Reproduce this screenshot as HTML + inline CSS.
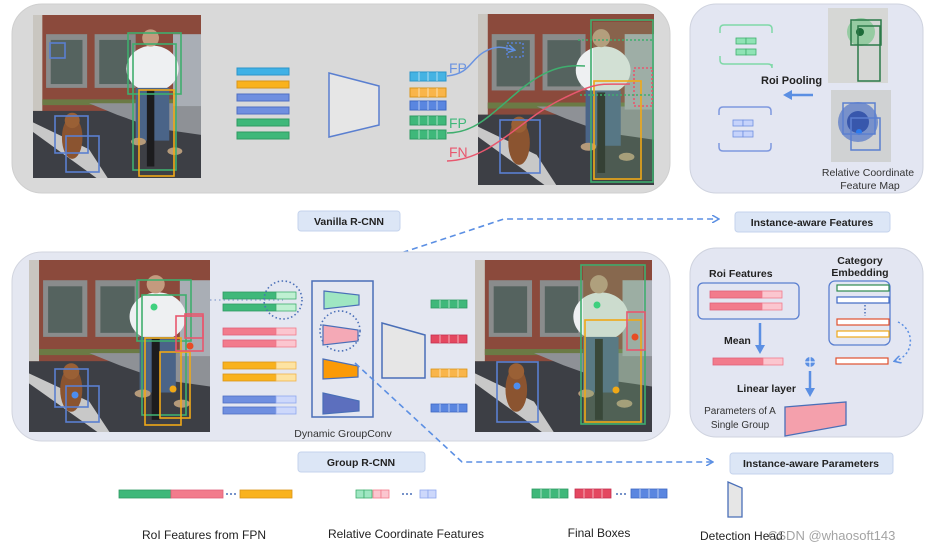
<!DOCTYPE html>
<html><head><meta charset="utf-8"><style>
html,body{margin:0;padding:0;background:#fff;width:935px;height:551px;overflow:hidden}
svg{display:block}
text{font-family:"Liberation Sans",Arial,sans-serif}
</style></head><body>
<svg width="935" height="551" viewBox="0 0 935 551" xmlns="http://www.w3.org/2000/svg">
<defs>
<symbol id="photo" viewBox="0 0 180 170" preserveAspectRatio="none">
 <rect width="180" height="170" fill="#3d3f45"/>
 <rect width="180" height="100" fill="#8b4a3c"/>
 <rect x="0" y="0" width="10" height="100" fill="#c9c6c0"/>
 <rect x="14" y="20" width="44" height="56" fill="#8a8c8c"/>
 <rect x="19" y="26" width="34" height="46" fill="#55635f"/>
 <rect x="66" y="20" width="44" height="56" fill="#8a8c8c"/>
 <rect x="71" y="26" width="34" height="46" fill="#55635f"/>
 <rect x="10" y="88" width="170" height="6" fill="#6b7a45"/>
 <polygon points="60,92 180,92 180,125 130,118 90,104" fill="#8e9196"/>
 <polygon points="0,112 60,140 80,170 68,170 0,122" fill="#c8c8c8"/>
 <rect x="150" y="20" width="30" height="75" fill="#a9aeb5"/>
 <ellipse cx="128" cy="56" rx="28" ry="24" fill="#eef0f2"/>
 <circle cx="126" cy="24" r="9" fill="#c49a7e"/>
 <rect x="110" y="76" width="36" height="55" fill="#4a6488"/>
 <rect x="122" y="78" width="8" height="80" fill="#1c1c1e"/>
 <ellipse cx="113" cy="132" rx="8" ry="4" fill="#b59a7a"/>
 <ellipse cx="152" cy="142" rx="8" ry="4" fill="#b59a7a"/>
 <ellipse cx="42" cy="128" rx="11" ry="22" fill="#8b5430"/>
 <circle cx="42" cy="110" r="8" fill="#9a6035"/>
</symbol>
<marker id="ah" markerWidth="8" markerHeight="8" refX="6" refY="4" orient="auto" markerUnits="userSpaceOnUse"><path d="M0,0 L7,4 L0,8" fill="none" stroke="#5b8fe3" stroke-width="1.5"/></marker>
<marker id="ahs" markerWidth="10" markerHeight="10" refX="5" refY="5" orient="auto" markerUnits="userSpaceOnUse"><path d="M0,0 L9,5 L0,10 z" fill="#5b8fe3"/></marker>
</defs>

<!-- top panel -->
<rect x="12" y="4" width="658" height="189" rx="30" fill="#d9d9d9" stroke="#cfcfcf"/>
<use href="#photo" x="33" y="15" width="168" height="163"/>
<g fill="none" stroke-width="1.6">
 <rect x="50" y="43" width="15" height="15" stroke="#5a7fd0"/>
 <rect x="128" y="33" width="53" height="61" stroke="#3fae6e"/>
 <rect x="133" y="44" width="43" height="126" stroke="#3fae6e"/>
 <rect x="139" y="90" width="35" height="86" stroke="#f0a817"/>
 <rect x="55" y="116" width="33" height="37" stroke="#5a7fd0"/>
 <rect x="66" y="136" width="33" height="36" stroke="#5a7fd0"/>
</g>
<!-- stacked bars -->
<g stroke-width="1">
 <rect x="237" y="68" width="52" height="7" fill="#3fb1e6" stroke="#2c95c9"/>
 <rect x="237" y="81" width="52" height="7" fill="#f9b21d" stroke="#d9951a"/>
 <rect x="237" y="94" width="52" height="7" fill="#6f8fe0" stroke="#4f6fc4"/>
 <rect x="237" y="107" width="52" height="7" fill="#6f8fe0" stroke="#4f6fc4"/>
 <rect x="237" y="119" width="52" height="7" fill="#3fb87a" stroke="#2f9a63"/>
 <rect x="237" y="132" width="52" height="7" fill="#3fb87a" stroke="#2f9a63"/>
</g>
<polygon points="329,73 379,86 379,125 329,137" fill="#e6e6e6" stroke="#5a7fd0" stroke-width="1.5"/>
<g stroke-width="1">
 <rect x="410" y="72" width="36" height="9" fill="#45b3e3" stroke="#2c95c9"/>
 <rect x="410" y="88" width="36" height="9" fill="#f9b54a" stroke="#d9951a"/>
 <rect x="410" y="101" width="36" height="9" fill="#5a86e0" stroke="#3f69c4"/>
 <rect x="410" y="116" width="36" height="9" fill="#3fb87a" stroke="#2f9a63"/>
 <rect x="410" y="130" width="36" height="9" fill="#3fb87a" stroke="#2f9a63"/>
</g>
<g stroke="#fff" stroke-width="0.8" opacity="0.7">
 <path d="M419,72v9M428,72v9M437,72v9M419,88v9M428,88v9M437,88v9M419,101v9M428,101v9M437,101v9M419,116v9M428,116v9M437,116v9M419,130v9M428,130v9M437,130v9"/>
</g>
<text x="449" y="73" font-size="14" fill="#6a93e0">FP</text>
<text x="449" y="128" font-size="14" fill="#3fb87a">FP</text>
<text x="449" y="157" font-size="14" fill="#e8576e">FN</text>

<use href="#photo" x="478" y="14" width="176" height="171"/>
<rect x="593" y="22" width="60" height="158" fill="#7fae7a" opacity="0.25"/>
<g fill="none" stroke-width="1.6">
 <rect x="591" y="20" width="62" height="162" stroke="#3fae6e"/>
 <rect x="594" y="81" width="47" height="98" stroke="#f0a817"/>
 <rect x="500" y="120" width="40" height="53" stroke="#5a7fd0"/>
 <rect x="634" y="68" width="18" height="38" stroke="#e8576e" stroke-dasharray="2,2"/>
 <rect x="507" y="43" width="16" height="14" stroke="#5a7fd0" stroke-dasharray="2,2"/>
 <path d="M578,40 H652 M580,95 H652" stroke="#3fae6e" stroke-dasharray="2,2"/>
</g>
<g fill="none" stroke-width="1.5">
 <path d="M447,76 C470,74 470,60 484,52 S505,48 514,50" stroke="#6a93e0" marker-end="url(#ah)"/>
 <path d="M447,133 C475,133 490,115 520,90 S570,65 585,66" stroke="#3fae6e"/>
 <path d="M447,161 C490,160 520,120 560,100 S600,85 630,84" stroke="#e8576e"/>
</g>

<!-- top right panel -->
<rect x="690" y="4" width="233" height="189" rx="26" fill="#e3e6f2" stroke="#cfd3df"/>
<rect x="828" y="8" width="60" height="75" fill="#d6d7d5"/>
<circle cx="861" cy="32" r="14" fill="#55c070" opacity="0.5"/>
<circle cx="860" cy="32" r="4" fill="#1d6b39"/>
<g fill="none" stroke="#2c7a49" stroke-width="1.5"><rect x="851" y="20" width="30" height="25"/><rect x="858" y="26" width="22" height="55"/></g>
<rect x="831" y="90" width="60" height="72" fill="#d0d2d3"/>
<circle cx="858" cy="122" r="20" fill="#2f5bc4" opacity="0.55"/>
<circle cx="858" cy="122" r="11" fill="#1d3f9e" opacity="0.7"/>
<circle cx="859" cy="132" r="3" fill="#2a7bf0"/>
<g fill="none" stroke="#5a7fd0" stroke-width="1.5"><rect x="843" y="103" width="32" height="31"/><rect x="851" y="118" width="29" height="32"/></g>
<text x="868" y="176" font-size="10.5" fill="#333" text-anchor="middle">Relative Coordinate</text>
<text x="870" y="189" font-size="10.5" fill="#333" text-anchor="middle">Feature Map</text>
<text x="761" y="84" font-size="11" font-weight="bold" fill="#222">Roi Pooling</text>
<path d="M813,95 H787" stroke="#5b8fe3" stroke-width="2.5" marker-end="url(#ahs)"/>
<g fill="none" stroke="#7fd8a8" stroke-width="1.5">
 <path d="M720,33 v-4 q0,-4 4,-4 h44 q4,0 4,4 v4"/><path d="M720,60 v4 q0,4 4,4 h44 q4,0 4,4 v-4" transform="translate(0,-4)"/>
</g>
<g fill="#8fe3b5" stroke="#3fae6e" stroke-width="0.8">
 <rect x="736" y="38" width="10" height="6"/><rect x="746" y="38" width="10" height="6"/>
 <rect x="736" y="49" width="10" height="6"/><rect x="746" y="49" width="10" height="6"/>
</g>
<g fill="none" stroke="#7e98df" stroke-width="1.5">
 <path d="M719,115 v-4 q0,-4 4,-4 h44 q4,0 4,4 v4"/><path d="M719,143 v4 q0,4 4,4 h44 q4,0 4,-4 v-4"/>
</g>
<g fill="#c6d3fb" stroke="#6f8fe0" stroke-width="0.8">
 <rect x="733" y="120" width="10" height="6"/><rect x="743" y="120" width="10" height="6"/>
 <rect x="733" y="131" width="10" height="6"/><rect x="743" y="131" width="10" height="6"/>
</g>

<!-- labels middle -->
<rect x="298" y="211" width="102" height="20" rx="3" fill="#dce6f6" stroke="#c5d3ec"/>
<text x="349" y="225" font-size="10.5" font-weight="bold" fill="#222" text-anchor="middle">Vanilla R-CNN</text>
<rect x="735" y="212" width="155" height="20" rx="3" fill="#dce6f6" stroke="#c5d3ec"/>
<text x="812" y="226" font-size="10.5" font-weight="bold" fill="#222" text-anchor="middle">Instance-aware Features</text>
<path d="M298,287 L504,219 H718" fill="none" stroke="#5b8fe3" stroke-width="1.6" stroke-dasharray="6,4" marker-end="url(#ah)"/>

<!-- bottom panel -->
<rect x="12" y="252" width="658" height="189" rx="30" fill="#e4e7f1" stroke="#d2d5df"/>
<use href="#photo" x="29" y="260" width="181" height="172"/>
<g fill="none" stroke-width="1.6">
 <rect x="137" y="280" width="54" height="61" stroke="#3fae6e"/>
 <rect x="142" y="295" width="44" height="120" stroke="#3fae6e"/>
 <rect x="145" y="338" width="36" height="87" stroke="#f0a817"/>
 <rect x="160" y="352" width="30" height="66" stroke="#f0a817"/>
 <rect x="176" y="316" width="27" height="35" stroke="#e8576e"/>
 <rect x="185" y="314" width="18" height="24" stroke="#e8576e"/>
 <rect x="55" y="369" width="33" height="38" stroke="#5a7fd0"/>
 <rect x="66" y="386" width="33" height="36" stroke="#5a7fd0"/>
</g>
<circle cx="154" cy="307" r="3.5" fill="#3fd07e"/><circle cx="190" cy="346" r="3.5" fill="#e84c24"/>
<circle cx="173" cy="389" r="3.5" fill="#f0a817"/><circle cx="75" cy="395" r="3.5" fill="#4c8df0"/>

<!-- group features -->
<g stroke-width="0.8">
 <rect x="223" y="292" width="53" height="7" fill="#3fb87a" stroke="#2f9a63"/><rect x="276" y="292" width="20" height="7" fill="#bff0d2" stroke="#3fae6e"/>
 <rect x="223" y="304" width="53" height="7" fill="#3fb87a" stroke="#2f9a63"/><rect x="276" y="304" width="20" height="7" fill="#bff0d2" stroke="#3fae6e"/>
 <rect x="223" y="328" width="53" height="7" fill="#f27b8c" stroke="#e0607a"/><rect x="276" y="328" width="20" height="7" fill="#fbc6cf" stroke="#f27b8c"/>
 <rect x="223" y="340" width="53" height="7" fill="#f27b8c" stroke="#e0607a"/><rect x="276" y="340" width="20" height="7" fill="#fbc6cf" stroke="#f27b8c"/>
 <rect x="223" y="362" width="53" height="7" fill="#f9b21d" stroke="#d9951a"/><rect x="276" y="362" width="20" height="7" fill="#fde3a2" stroke="#f0b34a"/>
 <rect x="223" y="374" width="53" height="7" fill="#f9b21d" stroke="#d9951a"/><rect x="276" y="374" width="20" height="7" fill="#fde3a2" stroke="#f0b34a"/>
 <rect x="223" y="396" width="53" height="7" fill="#6f8fe0" stroke="#4f6fc4"/><rect x="276" y="396" width="20" height="7" fill="#cdd8fb" stroke="#8fa8ee"/>
 <rect x="223" y="407" width="53" height="7" fill="#6f8fe0" stroke="#4f6fc4"/><rect x="276" y="407" width="20" height="7" fill="#cdd8fb" stroke="#8fa8ee"/>
</g>
<g fill="none" stroke="#4a6fb8" stroke-width="1.6" stroke-dasharray="1.5,2.5">
 <circle cx="283" cy="300" r="19"/><circle cx="340" cy="331" r="20"/>
 <path d="M210,300 L283,300" stroke-dasharray="1.5,3" opacity="0.5"/>
</g>
<rect x="312" y="281" width="61" height="136" fill="none" stroke="#4a6fb8" stroke-width="1.5"/>
<polygon points="324,291 359,295 359,305 324,309" fill="#9fe6c2" stroke="#4a6fb8" stroke-width="1.2"/>
<polygon points="323,325 358,330 358,341 323,345" fill="#f4a9b6" stroke="#4a6fb8" stroke-width="1.2"/>
<polygon points="323,359 358,366 358,377 323,379" fill="#fb9a06" stroke="#4a6fb8" stroke-width="1.2"/>
<polygon points="323,393 359,401 359,411 323,414" fill="#5c6fbe" stroke="#4a6fb8" stroke-width="1.2"/>
<polygon points="382,323 425,335 425,378 382,378" fill="#e6e6e6" stroke="#4a6fb8" stroke-width="1.5"/>
<text x="343" y="437" font-size="10.5" fill="#333" text-anchor="middle">Dynamic GroupConv</text>
<g stroke-width="0.8">
 <rect x="431" y="300" width="36" height="8" fill="#3fb87a" stroke="#2f9a63"/>
 <rect x="431" y="335" width="36" height="8" fill="#e44860" stroke="#c43050"/>
 <rect x="431" y="369" width="36" height="8" fill="#f9b54a" stroke="#d9951a"/>
 <rect x="431" y="404" width="36" height="8" fill="#5a86e0" stroke="#3f69c4"/>
</g>
<g stroke="#fff" stroke-width="0.8" opacity="0.7"><path d="M440,300v8M449,300v8M458,300v8M440,335v8M449,335v8M458,335v8M440,369v8M449,369v8M458,369v8M440,404v8M449,404v8M458,404v8"/></g>

<use href="#photo" x="475" y="260" width="177" height="172"/>
<rect x="583" y="266" width="60" height="158" fill="#7fae7a" opacity="0.3"/>
<g fill="none" stroke-width="1.6">
 <rect x="581" y="265" width="64" height="159" stroke="#3fae6e"/>
 <rect x="585" y="320" width="56" height="102" stroke="#f0a817"/>
 <rect x="627" y="312" width="18" height="38" stroke="#e8576e"/>
 <rect x="497" y="362" width="41" height="60" stroke="#5a7fd0"/>
</g>
<circle cx="597" cy="305" r="3.5" fill="#3fd07e"/><circle cx="635" cy="337" r="3.5" fill="#e84c24"/>
<circle cx="616" cy="390" r="3.5" fill="#f0a817"/><circle cx="517" cy="386" r="3.5" fill="#4c8df0"/>

<!-- bottom right panel -->
<rect x="690" y="248" width="233" height="189" rx="26" fill="#e3e6f2" stroke="#cfd3df"/>
<text x="709" y="277" font-size="10.5" font-weight="bold" fill="#222">Roi Features</text>
<rect x="698" y="283" width="101" height="36" rx="5" fill="none" stroke="#5a7fd0" stroke-width="1.3"/>
<g stroke-width="0.8">
 <rect x="710" y="291" width="52" height="7" fill="#f27b8c" stroke="#e0607a"/><rect x="762" y="291" width="20" height="7" fill="#fbc6cf" stroke="#f27b8c"/>
 <rect x="710" y="303" width="52" height="7" fill="#f27b8c" stroke="#e0607a"/><rect x="762" y="303" width="20" height="7" fill="#fbc6cf" stroke="#f27b8c"/>
 <rect x="713" y="358" width="50" height="7" fill="#f27b8c" stroke="#e0607a"/><rect x="763" y="358" width="20" height="7" fill="#fbc6cf" stroke="#f27b8c"/>
</g>
<text x="724" y="344" font-size="10.5" font-weight="bold" fill="#222">Mean</text>
<path d="M760,323 V350" stroke="#5b8fe3" stroke-width="2.5" marker-end="url(#ahs)"/>
<text x="860" y="264" font-size="10.5" font-weight="bold" fill="#222" text-anchor="middle">Category</text>
<text x="860" y="276" font-size="10.5" font-weight="bold" fill="#222" text-anchor="middle">Embedding</text>
<rect x="829" y="281" width="61" height="64" rx="6" fill="none" stroke="#5a7fd0" stroke-width="1.3"/>
<g stroke-width="1.2" fill="#fff">
 <rect x="837" y="285" width="52" height="6" stroke="#2f8a4f"/>
 <rect x="837" y="297" width="52" height="6" stroke="#3f69c4"/>
 <rect x="837" y="319" width="52" height="6" stroke="#e0502e"/>
 <rect x="837" y="331" width="52" height="6" stroke="#f0a817"/>
 <rect x="836" y="358" width="52" height="6" stroke="#e0502e"/>
</g>
<path d="M865,305 V316" stroke="#4a6fb8" stroke-width="1.5" stroke-dasharray="1.5,2"/>
<path d="M898,322 C915,330 915,355 895,361" fill="none" stroke="#5b8fe3" stroke-width="1.5" stroke-dasharray="2,2.5" marker-end="url(#ah)"/>
<circle cx="810" cy="362" r="5" fill="#5b8fe3"/><path d="M805,362h10M810,357v10" stroke="#fff" stroke-width="1"/>
<path d="M810,371 V393" stroke="#5b8fe3" stroke-width="2.5" marker-end="url(#ahs)"/>
<text x="737" y="392" font-size="10.5" font-weight="bold" fill="#222">Linear layer</text>
<polygon points="785,407 846,402 846,425 785,436" fill="#f4a0ac" stroke="#4a6fb8" stroke-width="1.3"/>
<text x="740" y="414" font-size="10" fill="#333" text-anchor="middle">Parameters of A</text>
<text x="740" y="428" font-size="10" fill="#333" text-anchor="middle">Single Group</text>

<rect x="298" y="452" width="127" height="20" rx="3" fill="#dce6f6" stroke="#c5d3ec"/>
<text x="361" y="466" font-size="10.5" font-weight="bold" fill="#222" text-anchor="middle">Group R-CNN</text>
<rect x="730" y="453" width="163" height="21" rx="3" fill="#dce6f6" stroke="#c5d3ec"/>
<text x="811" y="467" font-size="10.5" font-weight="bold" fill="#222" text-anchor="middle">Instance-aware Parameters</text>
<path d="M355,363 L462,462 H712" fill="none" stroke="#5b8fe3" stroke-width="1.6" stroke-dasharray="6,4" marker-end="url(#ah)"/>

<!-- legend -->
<g stroke-width="0.8">
 <rect x="119" y="490" width="52" height="8" fill="#3fb87a" stroke="#2f9a63"/>
 <rect x="171" y="490" width="52" height="8" fill="#f27b8c" stroke="#e0607a"/>
 <rect x="240" y="490" width="52" height="8" fill="#f9b21d" stroke="#d9951a"/>
 <rect x="356" y="490" width="8" height="8" fill="#9fe6c2" stroke="#3fae6e"/><rect x="364" y="490" width="8" height="8" fill="#9fe6c2" stroke="#3fae6e"/>
 <rect x="373" y="490" width="8" height="8" fill="#fbc6cf" stroke="#f27b8c"/><rect x="381" y="490" width="8" height="8" fill="#fbc6cf" stroke="#f27b8c"/>
 <rect x="420" y="490" width="8" height="8" fill="#cdd8fb" stroke="#8fa8ee"/><rect x="428" y="490" width="8" height="8" fill="#cdd8fb" stroke="#8fa8ee"/>
 <rect x="532" y="489" width="36" height="9" fill="#3fb87a" stroke="#2f9a63"/>
 <rect x="575" y="489" width="36" height="9" fill="#e44860" stroke="#c43050"/>
 <rect x="631" y="489" width="36" height="9" fill="#5a86e0" stroke="#3f69c4"/>
</g>
<g stroke="#fff" stroke-width="0.8" opacity="0.7"><path d="M541,489v9M550,489v9M559,489v9M584,489v9M593,489v9M602,489v9M640,489v9M649,489v9M658,489v9"/></g>
<g fill="#4a6fb8"><circle cx="227" cy="494" r="1"/><circle cx="231" cy="494" r="1"/><circle cx="235" cy="494" r="1"/>
<circle cx="403" cy="494" r="1"/><circle cx="407" cy="494" r="1"/><circle cx="411" cy="494" r="1"/>
<circle cx="617" cy="494" r="1"/><circle cx="621" cy="494" r="1"/><circle cx="625" cy="494" r="1"/></g>
<polygon points="728,482 742,488 742,517 728,517" fill="#e6e6e6" stroke="#4a6fb8" stroke-width="1.3"/>
<text x="204" y="539" font-size="12" fill="#222" text-anchor="middle">RoI Features from FPN</text>
<text x="406" y="538" font-size="12" fill="#222" text-anchor="middle">Relative Coordinate Features</text>
<text x="599" y="537" font-size="12" fill="#222" text-anchor="middle">Final Boxes</text>
<text x="700" y="540" font-size="12" fill="#222">Detection Head</text>
<text x="768" y="540" font-size="13" fill="#9a9a9a" opacity="0.9">CSDN @whaosoft143</text>
</svg>
</body></html>
